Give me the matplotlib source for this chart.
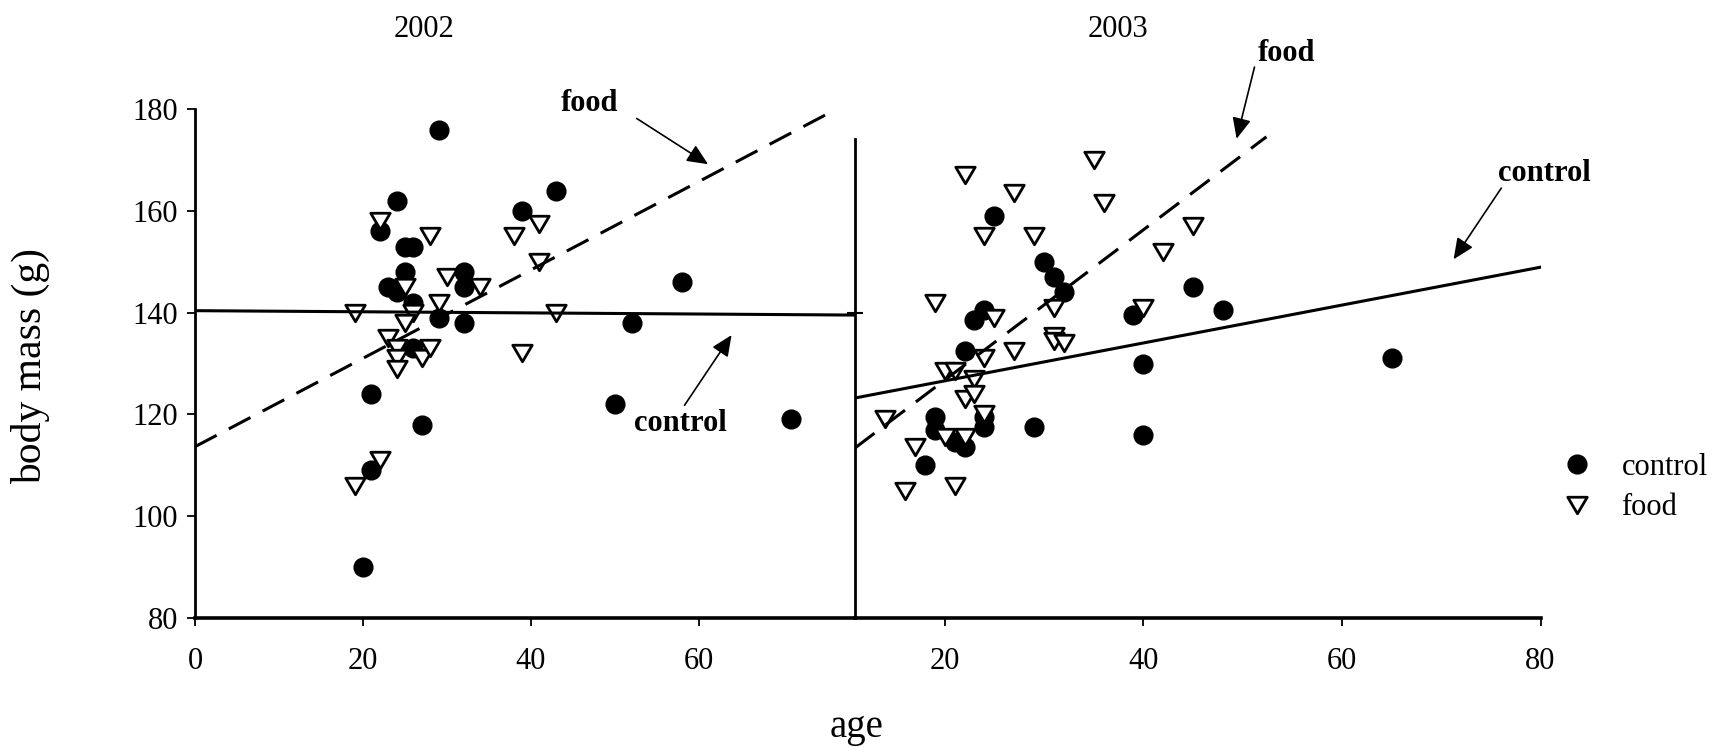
#!/usr/bin/env python3
# -*- coding: utf-8 -*-

import numpy as np
import matplotlib
matplotlib.use("Agg")
import matplotlib.pyplot as plt
from matplotlib.lines import Line2D
from matplotlib.path import Path

# ---- data ----
# 2002
age_ctrl_02  = [29, 24, 22, 25, 26, 25, 23, 24, 26, 26, 29, 32, 32, 32, 21, 27, 21, 20, 39, 43, 52, 50, 58, 71]
mass_ctrl_02 = [176, 162, 156, 153, 153, 148, 145, 144, 142, 133, 139, 148, 145, 138, 124, 118, 109, 90, 160, 164, 138, 122, 146, 119]
age_food_02  = [22, 28, 38, 41, 41, 30, 34, 25, 29, 26, 19, 43, 25, 23, 24, 24, 24, 27, 28, 39, 22, 19]
mass_food_02 = [158, 155, 155, 157.5, 150, 147, 145, 145, 142, 140, 140, 140, 138, 135, 133, 131, 129, 131, 133, 132, 111, 106]

# 2003
age_ctrl_03  = [25, 30, 31, 32, 24, 23, 22, 39, 40, 45, 48, 65, 19, 19, 21, 22, 24, 24, 18, 29, 40]
mass_ctrl_03 = [159, 150, 147, 144, 140.5, 138.5, 132.5, 139.5, 130, 145, 140.5, 131, 119.5, 117, 114.5, 113.5, 119.5, 117.5, 110, 117.5, 116]
age_food_03  = [22, 27, 35, 36, 24, 29, 19, 25, 31, 40, 31, 31, 32, 27, 24, 20, 21, 23, 22, 23, 24, 14, 17, 16, 21, 20, 22, 45, 42]
mass_food_03 = [167, 163.5, 170, 161.5, 155, 155, 142, 139, 141, 141, 135.5, 134.5, 134, 132.5, 131, 128.5, 128.5, 127, 123, 124, 120, 119, 113.5, 105, 106, 115.5, 115.5, 157, 152]

# trend lines (intercept, slope) and the age range they cover
trend_ctrl_02 = (140.4, -0.011);  span_ctrl_02 = (0, 78.6)
trend_food_02 = (113.65, 0.869);  span_food_02 = (0, 76.2)
trend_ctrl_03 = (119.14, 0.3726); span_ctrl_03 = (10.97, 80.15)
trend_food_03 = (97.2, 1.477);    span_food_03 = (10.97, 52.4)

xticks_02 = [0, 20, 40, 60]
xticks_03 = [20, 40, 60, 80]
yticks    = [80, 100, 120, 140, 160, 180]

# ---- figure ----
plt.rcParams['font.family'] = ['Liberation Serif', 'DejaVu Serif']

W, H = 1717, 747
fig = plt.figure(figsize=(W / 100, H / 100), dpi=100)

def rect(x0, x1, ytop, ybot):
    return [x0 / W, 1 - ybot / H, (x1 - x0) / W, (ybot - ytop) / H]

tri = Path([(-1, 0.85), (1, 0.85), (0, -0.85), (-1, 0.85)], closed=True)
ctrl_style = dict(ls='none', marker='o', ms=13.5, color='black', zorder=2)
food_style = dict(ls='none', marker=tri, ms=14, mfc='white', mec='black', mew=2.0, zorder=2.5)
arrow = dict(arrowstyle='-|>,head_length=0.85,head_width=0.38', color='black', lw=1.2,
             shrinkA=0, shrinkB=0, mutation_scale=15)

def trend(ax, coef, span, dashed):
    xx = np.array(span)
    ln, = ax.plot(xx, coef[0] + coef[1] * xx, color='black', lw=2.2, zorder=3)
    if dashed:
        ln.set_dashes([8, 4.5])

ax1 = fig.add_axes(rect(195, 855, 109.3, 617.8))
ax2 = fig.add_axes(rect(855, 1540.5, 109.3, 617.8))
ax2.patch.set_visible(False)

for ax in (ax1, ax2):
    ax.set_ylim(80, 180)
    ax.spines['top'].set_visible(False)
    ax.spines['right'].set_visible(False)
    ax.spines['left'].set_linewidth(2.0)
    ax.spines['bottom'].set_linewidth(2.6)
    ax.tick_params(axis='x', direction='out', length=6, width=1.3, labelsize=22, pad=15)

ax1.set_xlim(0, 78.6)
ax1.set_xticks(xticks_02)
ax1.set_yticks(yticks)
ax1.tick_params(axis='y', direction='out', length=6, width=1.3, labelsize=22, pad=6)

ax2.set_xlim(10.97, 80)
ax2.set_xticks(xticks_03)
ax2.set_yticks([140])
ax2.set_yticklabels([''])
ax2.tick_params(axis='y', direction='inout', length=11, width=1.5)
ax2.spines['left'].set_bounds(80, 174.2)

# 2002
ax1.plot(age_ctrl_02, mass_ctrl_02, **ctrl_style)
ax1.plot(age_food_02, mass_food_02, **food_style)
trend(ax1, trend_ctrl_02, span_ctrl_02, False)
trend(ax1, trend_food_02, span_food_02, True)
ax1.text(47.0, 179.7, 'food', ha='center', va='baseline', fontsize=22, fontweight='bold')
ax1.annotate('', xy=(61.1, 169.2), xytext=(52.6, 178.2), arrowprops=arrow, annotation_clip=False)
ax1.text(57.8, 116.7, 'control', ha='center', va='baseline', fontsize=22, fontweight='bold')
ax1.annotate('', xy=(63.9, 135.6), xytext=(58.3, 121.8), arrowprops=arrow, annotation_clip=False)

# 2003
ax2.plot(age_ctrl_03, mass_ctrl_03, **ctrl_style)
ax2.plot(age_food_03, mass_food_03, **food_style)
trend(ax2, trend_ctrl_03, span_ctrl_03, False)
trend(ax2, trend_food_03, span_food_03, True)
ax2.text(54.4, 189.5, 'food', ha='center', va='baseline', fontsize=22, fontweight='bold')
ax2.annotate('', xy=(49.4, 174.2), xytext=(51.2, 188.3), arrowprops=arrow, annotation_clip=False)
ax2.text(80.4, 165.9, 'control', ha='center', va='baseline', fontsize=22, fontweight='bold')
ax2.annotate('', xy=(71.25, 150.5), xytext=(76.05, 164.5), arrowprops=arrow, annotation_clip=False)

# titles and axis labels
fig.text(424 / W, 1 - 37.3 / H, '2002', ha='center', va='baseline', fontsize=22)
fig.text(1118 / W, 1 - 37.3 / H, '2003', ha='center', va='baseline', fontsize=22)
fig.text(31 / W, 1 - 366 / H, 'body mass (g)', rotation=90, ha='center', va='center', fontsize=30)
fig.text(857 / W, 1 - 737 / H, 'age', ha='center', va='baseline', fontsize=28)

handles = [Line2D([], [], **ctrl_style), Line2D([], [], **food_style)]
fig.legend(handles, ['control', 'food'], loc='center left', bbox_to_anchor=(0.9043, 0.347),
           frameon=False, fontsize=22, handlelength=1.6, handletextpad=0.65,
           borderpad=0, borderaxespad=0, labelspacing=0.37)

fig.savefig('out.png', dpi=100)
